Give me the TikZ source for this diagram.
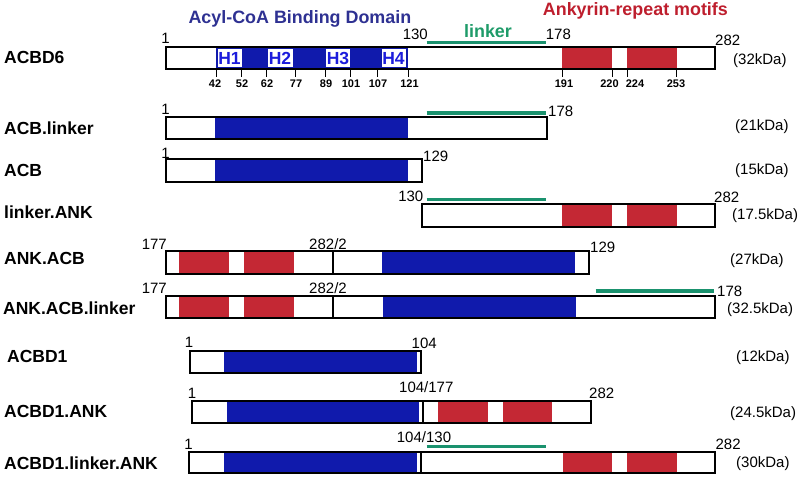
\documentclass[tikz,border=0pt]{standalone}
\usepackage{fontspec}
\setmainfont{Liberation Sans}
\definecolor{acbblue}{RGB}{16,26,172}
\definecolor{ankred}{RGB}{196,40,52}
\definecolor{lnkgreen}{RGB}{26,146,110}
\definecolor{hblue}{RGB}{28,28,220}
\definecolor{titleblue}{RGB}{46,49,146}
\definecolor{titlered}{RGB}{190,30,45}
\definecolor{titlegreen}{RGB}{30,155,105}
\begin{document}
\begin{tikzpicture}[x=1pt, y=-1pt,
  bar/.style={draw=black, line width=2pt},
  sep/.style={draw=black, line width=2.2pt},
  acb/.style={fill=acbblue},
  ank/.style={fill=ankred},
  lnk/.style={draw=lnkgreen, line width=3.5pt},
  tick/.style={draw=black, line width=0.9pt},
  num/.style={font=\fontsize{15}{17}\selectfont, inner sep=0pt},
  tnum/.style={font=\fontsize{11}{13}\selectfont\bfseries, inner sep=0pt, anchor=base},
  hlab/.style={font=\fontsize{17.5}{19}\selectfont\bfseries, text=hblue, inner sep=0pt},
  row/.style={font=\fontsize{17.5}{20}\selectfont\bfseries, inner sep=0pt, anchor=base west},
  kda/.style={font=\fontsize{15}{17}\selectfont, inner sep=0pt, anchor=base west},
  title/.style={font=\fontsize{17.9}{20}\selectfont\bfseries, inner sep=0pt}]
  \useasboundingbox (0,0) rectangle (800,478);
  % headings
  \node[title, text=titleblue, anchor=base west] (hacb) at (188.3,24) {Acyl-CoA Binding Domain};
  \node[title, text=titlered, anchor=base west] (hank) at (542.7,16) {Ankyrin-repeat motifs};
  \node[title, text=titlegreen, anchor=base] (hlnk) at (488,37.5) {linker};
  % ACBD6
  \node[row] (racbd6) at (4,63.3) {ACBD6};
  \fill[acb] (216,47) rectangle (408,69);
  \foreach \a/\b/\t in {217.5/241.5/H1, 267.5/292.5/H2, 326/350/H3, 381.5/405.5/H4} {
    \fill[white] (\a,49) rectangle (\b,67);
    \node[hlab] (h\t) at ({(\a+\b)/2},58.5) {\t};
  }
  \fill[ank] (562.3,47) rectangle (612.3,69);
  \fill[ank] (627,47) rectangle (676.7,69);
  \draw[bar] (166,47) rectangle (715,69);
  \foreach \x/\t/\lx in {216/42/215, 241.7/52/242, 266.7/62/267, 295/77/296,
      325.7/89/326, 350/101/351, 377.3/107/378, 408.3/121/409.5,
      562.3/191/564, 612.3/220/609.5, 627/224/635, 676.7/253/676} {
    \draw[tick] (\x,69) -- (\x,77);
    \node[tnum] (t\t) at (\lx,88) {\t};
  }
  \draw[lnk] (426.7,42.5) -- (545.7,42.5);
  \node[num, anchor=base] (a1) at (165.5,44) {1};
  \node[num, anchor=base east] (a130) at (428,39.3) {130};
  \node[num, anchor=base west] (a178) at (545.7,39.3) {178};
  \node[num, anchor=base west] (a282) at (715,46) {282};
  \node[kda] (kacbd6) at (733,65) {(32kDa)};
  % ACB.linker
  \node[row] (racblnk) at (4,135) {ACB.linker};
  \fill[acb] (215,117) rectangle (407.7,139);
  \draw[bar] (166,117) rectangle (547,139);
  \draw[lnk] (426.7,113) -- (545.7,113);
  \node[num, anchor=base] (b1) at (165.5,115) {1};
  \node[num, anchor=base west] (b178) at (548,116.5) {178};
  \node[kda] (kacblnk) at (735,131) {(21kDa)};
  % ACB
  \node[row] (racb) at (4,176.7) {ACB};
  \fill[acb] (215,159) rectangle (407.7,181.7);
  \draw[bar] (166,159) rectangle (421.5,181.7);
  \node[num, anchor=base] (c1) at (165.5,159) {1};
  \node[num, anchor=base west] (c129) at (423,162) {129};
  \node[kda] (kacb) at (735,175) {(15kDa)};
  % linker.ANK
  \node[row] (rlnkank) at (4,218.3) {linker.ANK};
  \fill[ank] (562.3,204) rectangle (612.3,226.7);
  \fill[ank] (627,204) rectangle (676.7,226.7);
  \draw[bar] (422.4,204) rectangle (715,226.7);
  \draw[lnk] (426.7,199.3) -- (545.7,199.3);
  \node[num, anchor=base east] (d130) at (423.5,201.7) {130};
  \node[num, anchor=base west] (d282) at (714,202.7) {282};
  \node[kda] (klnkank) at (732,220) {(17.5kDa)};
  % ANK.ACB
  \node[row] (rankacb) at (4,265) {ANK.ACB};
  \fill[ank] (179.3,251) rectangle (229,274);
  \fill[ank] (244,251) rectangle (293.7,274);
  \fill[acb] (382.3,251) rectangle (575.3,274);
  \draw[bar] (166,251) rectangle (589.3,274);
  \draw[sep] (332.7,251) -- (332.7,274);
  \node[num, anchor=base east] (e177) at (167,250) {177};
  \node[num, anchor=base] (e282) at (328,250) {282/2};
  \node[num, anchor=base west] (e129) at (590,253) {129};
  \node[kda] (kankacb) at (730,265) {(27kDa)};
  % ANK.ACB.linker
  \node[row] (rankacblnk) at (3,314) {ANK.ACB.linker};
  \fill[ank] (179.3,295.5) rectangle (229,317.7);
  \fill[ank] (244,295.5) rectangle (293.7,317.7);
  \fill[acb] (383,295.5) rectangle (576,317.7);
  \draw[bar] (166,295.5) rectangle (715,317.7);
  \draw[sep] (332.7,295.5) -- (332.7,317.7);
  \draw[lnk] (595.7,291) -- (714.3,291);
  \node[num, anchor=base east] (f177) at (167,293) {177};
  \node[num, anchor=base] (f282) at (328,293) {282/2};
  \node[num, anchor=base west] (f178) at (717,296) {178};
  \node[kda] (kankacblnk) at (727,313) {(32.5kDa)};
  % ACBD1
  \node[row] (racbd1) at (7,362.7) {ACBD1};
  \fill[acb] (224,351) rectangle (417.3,373);
  \draw[bar] (189.5,351) rectangle (421,373);
  \node[num, anchor=base] (g1) at (189,347) {1};
  \node[num, anchor=base west] (g104) at (411.5,348) {104};
  \node[kda] (kacbd1) at (736,361) {(12kDa)};
  % ACBD1.ANK
  \node[row] (racbd1ank) at (4,417.7) {ACBD1.ANK};
  \fill[acb] (226.5,400.7) rectangle (419,422.7);
  \fill[ank] (437.7,400.7) rectangle (487.7,422.7);
  \fill[ank] (502.7,400.7) rectangle (552.3,422.7);
  \draw[bar] (191.6,400.7) rectangle (590.7,422.7);
  \draw[sep] (423,400.7) -- (423,422.7);
  \node[num, anchor=base] (h1) at (192,398) {1};
  \node[num, anchor=base west] (h104) at (399,392.7) {104/177};
  \node[num, anchor=base west] (h282) at (589,398.3) {282};
  \node[kda] (kacbd1ank) at (730,417) {(24.5kDa)};
  % ACBD1.linker.ANK
  \node[row] (racbd1lnkank) at (4,469) {ACBD1.linker.ANK};
  \fill[acb] (224,451.7) rectangle (416.7,473.3);
  \fill[ank] (562.7,451.7) rectangle (612.3,473.3);
  \fill[ank] (626.7,451.7) rectangle (676.7,473.3);
  \draw[bar] (189,451.7) rectangle (715,473.3);
  \draw[sep] (421,451.7) -- (421,473.3);
  \draw[lnk] (426.7,446.7) -- (545.7,446.7);
  \node[num, anchor=base] (i1) at (188.5,449) {1};
  \node[num, anchor=base west] (i104) at (396.7,442.3) {104/130};
  \node[num, anchor=base west] (i282) at (715.4,449) {282};
  \node[kda] (kacbd1lnkank) at (736,467) {(30kDa)};
\end{tikzpicture}
\end{document}
